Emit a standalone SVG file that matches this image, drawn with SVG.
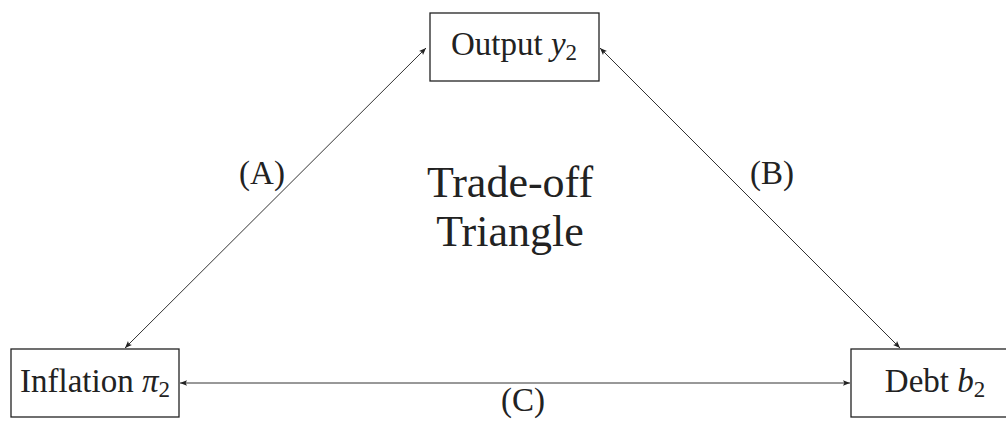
<svg xmlns="http://www.w3.org/2000/svg" width="1006" height="423" viewBox="0 0 1006 423">
<style>
.box{fill:#fff;stroke:#222;stroke-width:1.3}
.lbl{font-family:"Liberation Serif","DejaVu Serif",serif;font-size:33px;fill:#222;text-anchor:middle}
.big{font-size:44px}
.m{font-style:italic}
.sub{font-size:23px}
.conn{stroke:#333;stroke-width:1;fill:none;marker-start:url(#ah);marker-end:url(#ah)}
</style>
<defs>
<marker id="ah" viewBox="0 0 10 10" refX="10" refY="5" markerWidth="9" markerHeight="7" markerUnits="userSpaceOnUse" orient="auto-start-reverse">
<path d="M0,1 L10,5 L0,9 L2,5 Z" fill="#222"/>
</marker>
</defs>
<g id="connectors">
<line class="conn" x1="125" y1="348" x2="426" y2="48"/>
<line class="conn" x1="600" y1="48" x2="900" y2="348"/>
<line class="conn" x1="180" y1="383" x2="850" y2="383"/>
<text class="lbl" x="262" y="184">(A)</text>
<text class="lbl" x="772" y="184">(B)</text>
<text class="lbl" x="523" y="411">(C)</text>
</g>
<g id="output">
<rect class="box" x="430" y="13" width="169" height="68"/>
<text class="lbl" x="514" y="55">Output <tspan class="m">y</tspan><tspan class="sub" dy="5">2</tspan></text>
</g>
<g id="inflation">
<rect class="box" x="11" y="349" width="168" height="68"/>
<text class="lbl" x="95" y="392">Inflation <tspan class="m">π</tspan><tspan class="sub" dy="5">2</tspan></text>
</g>
<g id="debt">
<rect class="box" x="851" y="349" width="170" height="68"/>
<text class="lbl" x="935" y="392">Debt <tspan class="m">b</tspan><tspan class="sub" dy="5">2</tspan></text>
</g>
<g id="title">
<text class="lbl big" x="510" y="197">Trade-off</text>
<text class="lbl big" x="510" y="246">Triangle</text>
</g>
</svg>
